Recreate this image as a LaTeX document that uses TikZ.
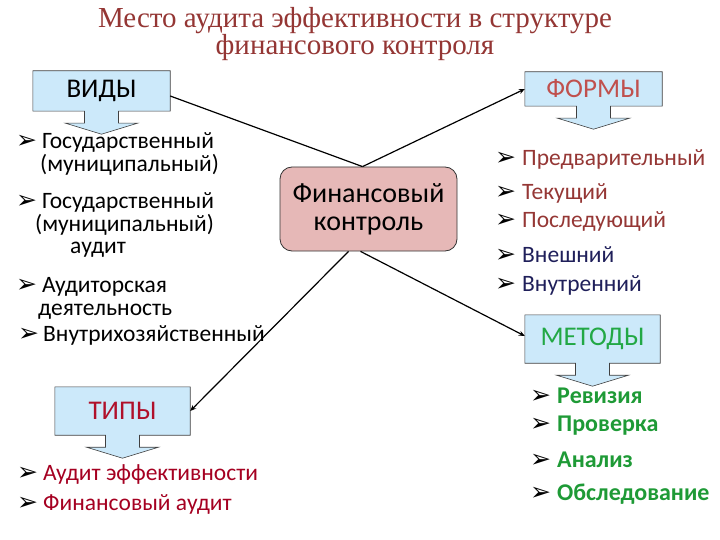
\documentclass[tikz,border=0pt]{standalone}
\usepackage{fontspec}
\setmainfont{Carlito}
\newfontfamily\titlefont{Liberation Serif}
\newfontfamily\bulfont{DejaVu Sans}
\usetikzlibrary{arrows.meta,calc,backgrounds}
\definecolor{boxfill}{HTML}{CCE9FA}
\definecolor{fcfill}{HTML}{E6B8B7}
\definecolor{titlecol}{HTML}{943634}
\definecolor{formcol}{HTML}{953735}
\definecolor{formlab}{HTML}{C0504D}
\definecolor{navy}{HTML}{1F1F5A}
\definecolor{typecol}{HTML}{A50021}
\definecolor{typelab}{HTML}{B0102A}
\definecolor{methcol}{HTML}{1E9A36}
\definecolor{methlab}{HTML}{22A845}
\tikzset{
  callbox/.style={minimum width=137pt,minimum height=40pt,inner sep=0pt,font=\fontsize{27}{29}\selectfont},
  calline/.style={draw=black!75,line width=0.6pt,fill=boxfill},
  item/.style={anchor=base west,inner sep=0pt,font=\fontsize{23.5}{25}\selectfont},
  mitem/.style={item,text=methcol,font=\bfseries\fontsize{24}{26}\selectfont},
  bul/.style={anchor=base west,inner sep=0pt,font=\bulfont\fontsize{25}{26}\selectfont},
  conn/.style={line width=1.2pt,black},
  tip/.style={-{Stealth[length=6pt,width=5pt]}}
}
\newcommand{\calloutpath}[1]{%
  \path[calline] (#1.north west) -- (#1.north east) -- (#1.south east)
    -- ($(#1.south)+(17,0)$) -- ($(#1.south)+(17,12)$) -- ($(#1.south)+(36,12)$)
    -- ($(#1.south)+(0,23)$) -- ($(#1.south)+(-36,12)$) -- ($(#1.south)+(-17,12)$)
    -- ($(#1.south)+(-17,0)$) -- (#1.south west) -- cycle;}
\begin{document}
\begin{tikzpicture}[x=1pt,y=-1pt]
\useasboundingbox (0,0) rectangle (720,540);
% title
\node[font=\titlefont\fontsize{29}{24}\selectfont,text=titlecol,align=center,inner sep=0pt] (title) at (355,34) {Место аудита эффективности в структуре\\финансового контроля};
% boxes
\node[callbox] (vidy) at (101.5,91) {ВИДЫ};
\node[callbox,minimum height=34pt,text=formlab] (formy) at (593.5,89) {ФОРМЫ};
\node[callbox,minimum height=48pt,minimum width=135pt,text=typelab] (tipy) at (122.5,411) {ТИПЫ};
\node[callbox,minimum height=48pt,minimum width=135pt,text=methlab] (metody) at (592.5,339) {МЕТОДЫ};
\begin{scope}[on background layer]
\calloutpath{vidy}
\calloutpath{formy}
\calloutpath{tipy}
\calloutpath{metody}
\end{scope}
% central node
\node[draw=black!80,line width=0.8pt,fill=fcfill,rounded corners=12pt,minimum width=177pt,minimum height=84pt,align=center,font=\fontsize{28}{28}\selectfont] (fc) at (368.5,209) {Финансовый\\контроль};
% connectors
\coordinate (top) at ($(fc.north)+(-6,0)$);
\draw[conn] ($(vidy.east)+(0,5)$) -- (top);
\draw[conn,tip] (top) -- (formy.west);
\draw[conn,tip] ($(fc.south)+(-20,0)$) -- (tipy.east);
\draw[conn,tip] ($(fc.south)+(-8,0)$) -- ($(metody.west)+(0,-3)$);
% left list
\node[bul] (b1) at (16,149) {➢};
\node[item] (l1) at (42,149) {Государственный};
\node[item] (l2) at (40,172) {(муниципальный)};
\node[bul] (b2) at (16,208) {➢};
\node[item] (l3) at (42,208) {Государственный};
\node[item] (l4) at (35,231) {(муниципальный)};
\node[item] (l5) at (70,254) {аудит};
\node[bul] (b3) at (16,292) {➢};
\node[item] (l6) at (42,292) {Аудиторская};
\node[item] (l7) at (38,315) {деятельность};
\node[bul] (b4) at (18,341) {➢};
\node[item] (l8) at (43,341) {Внутрихозяйственный};
% forms list
\node[bul] (f1b) at (495,166) {➢};
\node[item,text=formcol] (f1) at (522,166) {Предварительный};
\node[bul] (f2b) at (495,200) {➢};
\node[item,text=formcol] (f2) at (522,200) {Текущий};
\node[bul] (f3b) at (495,228) {➢};
\node[item,text=formcol] (f3) at (522,228) {Последующий};
\node[bul] (f4b) at (495,262) {➢};
\node[item,text=navy] (f4) at (522,262) {Внешний};
\node[bul] (f5b) at (495,291) {➢};
\node[item,text=navy] (f5) at (522,291) {Внутренний};
% types list
\node[bul] (t1b) at (17,480) {➢};
\node[item,text=typecol] (t1) at (43,480) {Аудит эффективности};
\node[bul] (t2b) at (17,510) {➢};
\node[item,text=typecol] (t2) at (43,510) {Финансовый аудит};
% methods list
\node[bul] (m1b) at (530,403) {➢};
\node[mitem] (m1) at (557,403) {Ревизия};
\node[bul] (m2b) at (530,431) {➢};
\node[mitem] (m2) at (557,431) {Проверка};
\node[bul] (m3b) at (530,467) {➢};
\node[mitem] (m3) at (557,467) {Анализ};
\node[bul] (m4b) at (530,500) {➢};
\node[mitem] (m4) at (557,500) {Обследование};
\end{tikzpicture}
\end{document}
